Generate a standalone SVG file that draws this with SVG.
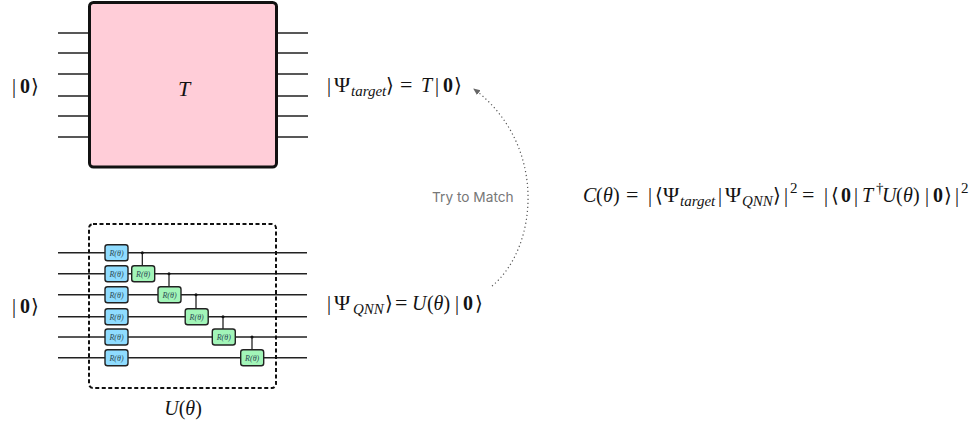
<svg xmlns="http://www.w3.org/2000/svg" width="974" height="425" viewBox="0 0 974 425">
<style>
.w{stroke:#222;stroke-width:1.5;fill:none}
.c{stroke:#111;stroke-width:1.2;fill:none}
.b{fill:#8fdcff;stroke:#222;stroke-width:1.4}
.g{fill:#a2f5b8;stroke:#222;stroke-width:1.4}
.gt{font:italic 8px "Liberation Serif","DejaVu Serif",serif;fill:#2b4a55;text-anchor:middle}
.m{font:20px "Liberation Serif","DejaVu Serif",serif;fill:#111;opacity:.99}
.i{font-style:italic}
.bd{font-weight:bold}
.p{font-size:22px}
.s{font:italic 15px "Liberation Serif","DejaVu Serif",serif;fill:#111;opacity:.99}
.sup{font:15px "Liberation Serif","DejaVu Serif",serif;fill:#111;opacity:.99}
</style>
<defs>
<marker id="ah" markerWidth="8" markerHeight="8" refX="6" refY="3" orient="auto" markerUnits="userSpaceOnUse"><path d="M0 0L7 3L0 6Z" fill="#666"/></marker>
</defs>
<g id="connectors">
<path class="w" d="M58 33H89M58 53H89M58 74H89M58 96H89M58 116H89M58 137H89M277 33H308M277 53H308M277 74H308M277 96H308M277 116H308M277 137H308"/>
<path class="w" d="M58 252.7H307M58 273.7H307M58 294.7H307M58 316.7H307M58 337H307M58 357.7H307"/>
<path class="c" d="M142.3 252.7V266M169 273.7V287M196 294.7V308M223 316.7V329M252 337V350"/>
<g fill="#111"><circle cx="142.3" cy="252.7" r="1.5"/><circle cx="169" cy="273.7" r="1.5"/><circle cx="196" cy="294.7" r="1.5"/><circle cx="223" cy="316.7" r="1.5"/><circle cx="252" cy="337" r="1.5"/></g>
<path d="M492 286C538 248 548 145 474 89" fill="none" stroke="#555" stroke-width="1.2" stroke-dasharray="1.2 2.8" marker-end="url(#ah)"/>
</g>
<g id="target-unitary">
<rect x="89.5" y="2.5" width="187" height="164.5" rx="4" fill="#ffcdd8" stroke="#111" stroke-width="3"/>
<text class="m i" x="178" y="96" style="font-size:22px">T</text>
</g>
<g id="ansatz">
<rect x="89" y="224" width="187" height="164" rx="4" fill="none" stroke="#111" stroke-width="2" stroke-dasharray="4 2.5"/>
<text class="m" x="183" y="415" text-anchor="middle"><tspan class="i">U</tspan>(<tspan class="i">θ</tspan>)</text>
</g>
<g id="gates-rotation">
<rect class="b" x="105" y="244.7" width="23" height="16" rx="2.5"/><text class="gt" x="116.5" y="255.5">R(θ)</text>
<rect class="b" x="105" y="265.7" width="23" height="16" rx="2.5"/><text class="gt" x="116.5" y="276.5">R(θ)</text>
<rect class="b" x="105" y="286.7" width="23" height="16" rx="2.5"/><text class="gt" x="116.5" y="297.5">R(θ)</text>
<rect class="b" x="105" y="308.7" width="23" height="16" rx="2.5"/><text class="gt" x="116.5" y="319.5">R(θ)</text>
<rect class="b" x="105" y="329" width="23" height="16" rx="2.5"/><text class="gt" x="116.5" y="339.8">R(θ)</text>
<rect class="b" x="105" y="349.7" width="23" height="16" rx="2.5"/><text class="gt" x="116.5" y="360.5">R(θ)</text>
</g>
<g id="gates-controlled">
<rect class="g" x="131.7" y="265.7" width="23" height="16" rx="2.5"/><text class="gt" x="143.2" y="276.5">R(θ)</text>
<rect class="g" x="158" y="286.7" width="23" height="16" rx="2.5"/><text class="gt" x="169.5" y="297.5">R(θ)</text>
<rect class="g" x="185.2" y="308.7" width="23" height="16" rx="2.5"/><text class="gt" x="196.7" y="319.5">R(θ)</text>
<rect class="g" x="212.3" y="329" width="23" height="16" rx="2.5"/><text class="gt" x="223.8" y="339.8">R(θ)</text>
<rect class="g" x="240.7" y="349.7" width="23" height="16" rx="2.5"/><text class="gt" x="252.2" y="360.5">R(θ)</text>
</g>
<g id="zero-top"><text class="m" y="93"><tspan x="12">|</tspan><tspan class="bd" x="20">0</tspan><tspan x="31">⟩</tspan></text></g>
<g id="zero-bottom"><text class="m" y="313"><tspan x="12">|</tspan><tspan class="bd" x="20">0</tspan><tspan x="31">⟩</tspan></text></g>
<g id="psi-target">
<text class="m" y="92"><tspan x="327">|</tspan><tspan class="p" x="334">Ψ</tspan><tspan x="386">⟩</tspan><tspan class="p" x="400">=</tspan><tspan class="i" x="421">T</tspan><tspan x="435">|</tspan><tspan class="bd" x="443">0</tspan><tspan x="454">⟩</tspan></text>
<text class="s" x="351" y="96">target</text>
</g>
<g id="psi-qnn">
<text class="m" y="310"><tspan x="327">|</tspan><tspan class="p" x="334">Ψ</tspan><tspan x="385">⟩</tspan><tspan class="p" x="395">=</tspan><tspan class="i" x="412">U</tspan><tspan x="427">(</tspan><tspan class="i" x="433.5">θ</tspan><tspan x="443.5">)</tspan><tspan x="455">|</tspan><tspan class="bd" x="463">0</tspan><tspan x="475">⟩</tspan></text>
<text class="s" x="353" y="314">QNN</text>
</g>
<g id="match-label"><text x="432" y="202" font-family="Inter,'Noto Sans',sans-serif" font-size="13.7" fill="#777">Try to Match</text></g>
<g id="cost">
<text class="m" y="201.5"><tspan class="i" x="583">C</tspan><tspan x="596">(</tspan><tspan class="i" x="603">θ</tspan><tspan x="613">)</tspan><tspan class="p" x="626">=</tspan><tspan x="648">|</tspan><tspan x="655">⟨</tspan><tspan class="p" x="663">Ψ</tspan><tspan x="718">|</tspan><tspan class="p" x="725">Ψ</tspan><tspan x="773">⟩</tspan><tspan x="784">|</tspan><tspan class="p" x="802">=</tspan><tspan x="824">|</tspan><tspan x="831">⟨</tspan><tspan class="bd" x="841">0</tspan><tspan x="854">|</tspan><tspan class="i" x="862">T</tspan><tspan class="i" x="882">U</tspan><tspan x="896">(</tspan><tspan class="i" x="903">θ</tspan><tspan x="913">)</tspan><tspan x="925">|</tspan><tspan class="bd" x="933">0</tspan><tspan x="944">⟩</tspan><tspan x="955">|</tspan></text>
<text class="s" x="680" y="206">target</text><text class="s" x="742" y="206">QNN</text>
<text class="sup" x="790" y="193">2</text><text class="sup" x="876" y="193">†</text><text class="sup" x="961" y="193">2</text>
</g>
</svg>
